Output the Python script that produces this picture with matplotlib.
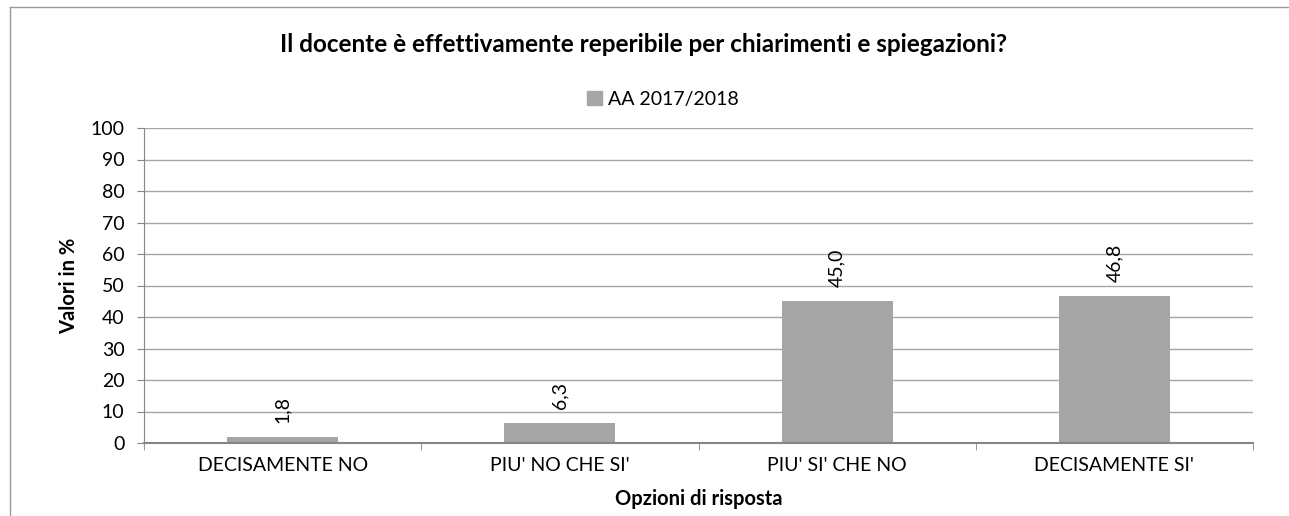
import numpy as np
import matplotlib
matplotlib.use("Agg")
import matplotlib.pyplot as plt
from matplotlib.lines import Line2D
from matplotlib.patches import Patch

categories = ["DECISAMENTE NO", "PIU' NO CHE SI'", "PIU' SI' CHE NO", "DECISAMENTE SI'"]
values = [1.8, 6.3, 45.0, 46.8]
value_labels = ["1,8", "6,3", "45,0", "46,8"]
series_name = "AA 2017/2018"
title = "Il docente è effettivamente reperibile per chiarimenti e spiegazioni?"

plt.rcParams['font.family'] = ['Lato', 'DejaVu Sans']

bar_col = '#a5a5a5'
grid_col = '#a6a6a6'
axis_col = '#868686'

fig = plt.figure(figsize=(12.89, 5.16), dpi=100)
ax = fig.add_axes([144/1289, 1 - 443/516, (1253-144)/1289, (443-128)/516])

x = np.arange(len(categories))
ax.bar(x, values, width=0.4, color=bar_col, zorder=3)
for xi, v, lab in zip(x, values, value_labels):
    ax.annotate(lab, (xi, v), xytext=(0, 10), textcoords='offset points',
                rotation=90, ha='center', va='bottom', fontsize=14, color='#000000')

ax.set_xlim(-0.5, len(categories) - 0.5)
ax.set_ylim(0, 100)
ax.set_yticks(np.arange(0, 101, 10))
ax.set_xticks(x)
ax.set_xticklabels(categories, fontsize=14)
ax.set_xticks(np.arange(-0.5, len(categories), 1), minor=True)
ax.tick_params(axis='x', which='major', length=0, pad=10)
ax.tick_params(axis='x', which='minor', length=5, color=axis_col, direction='out')
ax.tick_params(axis='y', length=5, color=axis_col, labelsize=14, pad=9)
ax.yaxis.grid(True, color=grid_col, linewidth=1, zorder=0)
ax.set_axisbelow(True)
for s in ['top', 'right']:
    ax.spines[s].set_visible(False)
ax.spines['left'].set_color(axis_col)
ax.spines['bottom'].set_color(axis_col)
ax.spines['bottom'].set_linewidth(1.5)
ax.spines['bottom'].set_zorder(4)

ax.set_ylabel("Valori in %", fontsize=14.5, fontweight='bold', labelpad=8)
ax.set_xlabel("Opzioni di risposta", fontsize=14.5, fontweight='bold', labelpad=11)

fig.text(644/1289, 1 - 44/516, title, ha='center', va='center',
         fontsize=17.5, fontweight='bold')
fig.legend(handles=[Patch(color=bar_col, label=series_name)], loc='center',
           bbox_to_anchor=(663/1289, 1 - 99/516), frameon=False, fontsize=14,
           handlelength=0.75, handleheight=0.75, handletextpad=0.3)

# chart frame (left and top edges)
fig.add_artist(Line2D([10/1289, 10/1289], [0, 1 - 7/516], transform=fig.transFigure,
                      color='#9a9a9a', linewidth=1))
fig.add_artist(Line2D([10/1289, 1], [1 - 7/516, 1 - 7/516], transform=fig.transFigure,
                      color='#9a9a9a', linewidth=1))

fig.savefig("out.png", dpi=100)
